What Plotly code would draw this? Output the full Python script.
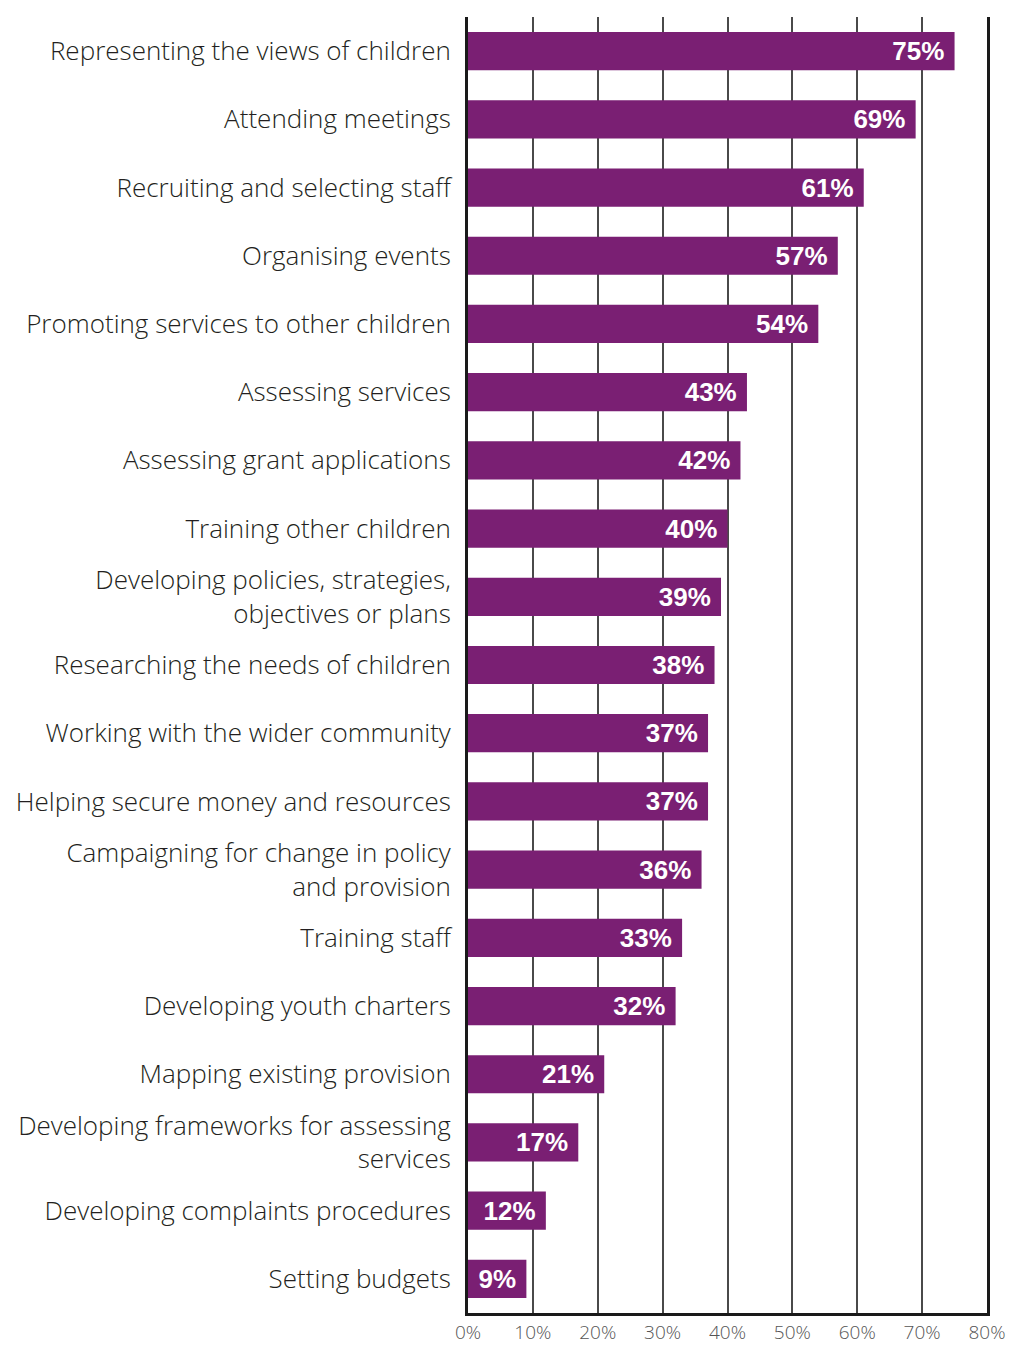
import plotly.graph_objects as go

# Share of respondents involved in each activity (%)
activities = [
    "Representing the views of children",
    "Attending meetings",
    "Recruiting and selecting staff",
    "Organising events",
    "Promoting services to other children",
    "Assessing services",
    "Assessing grant applications",
    "Training other children",
    "Developing policies, strategies,<br>objectives or plans",
    "Researching the needs of children",
    "Working with the wider community",
    "Helping secure money and resources",
    "Campaigning for change in policy<br>and provision",
    "Training staff",
    "Developing youth charters",
    "Mapping existing provision",
    "Developing frameworks for assessing<br>services",
    "Developing complaints procedures",
    "Setting budgets",
]
percentages = [75, 69, 61, 57, 54, 43, 42, 40, 39, 38, 37, 37, 36, 33, 32, 21, 17, 12, 9]

tick_values = [0, 10, 20, 30, 40, 50, 60, 70, 80]
tick_labels = ["0%", "10%", "20%", "30%", "40%", "50%", "60%", "70%", "80%"]

BAR_COLOUR = "#7a1f73"
LABEL_FONT = "Open Sans"

fig = go.Figure(
    go.Bar(
        x=percentages,
        y=list(range(len(activities))),
        orientation="h",
        width=0.56,
        marker=dict(color=BAR_COLOUR, line=dict(width=0)),
        # value label inside the bar end, with a little right padding
        text=[f"{v}%\u00a0" for v in percentages],
        textposition="inside",
        insidetextanchor="end",
        textangle=0,
        textfont=dict(family="Liberation Sans", size=26, color="white", weight="bold"),
        cliponaxis=False,
    )
)

fig.update_layout(
    width=1009,
    height=1345,
    margin=dict(l=468, r=22, t=17, b=32, autoexpand=False),
    paper_bgcolor="white",
    plot_bgcolor="white",
    showlegend=False,
    bargap=0.44,
    uniformtext=dict(mode=False),
    font=dict(family=LABEL_FONT, color="#231f20"),
)

fig.update_xaxes(
    range=[0, 80],
    tickvals=tick_values,
    ticktext=tick_labels,
    tickfont=dict(family=LABEL_FONT, size=19, color="#555555", weight=300),
    showgrid=True,
    gridcolor="#4a4a4a",
    gridwidth=1.5,
    showline=True,
    linecolor="#1a1a1a",
    linewidth=3,
    mirror=False,
    ticks="",
    ticklabelstandoff=0,
    zeroline=False,
    fixedrange=True,
)

fig.update_yaxes(
    range=[len(activities) - 0.5, -0.5],
    tickvals=list(range(len(activities))),
    ticktext=activities,
    tickfont=dict(family=LABEL_FONT, size=26, color="#231f20", weight=300),
    showgrid=False,
    showline=True,
    linecolor="#1a1a1a",
    linewidth=3,
    mirror=True,
    ticks="",
    ticklabelstandoff=9,
    zeroline=False,
    fixedrange=True,
)

fig.write_html("out.html")
